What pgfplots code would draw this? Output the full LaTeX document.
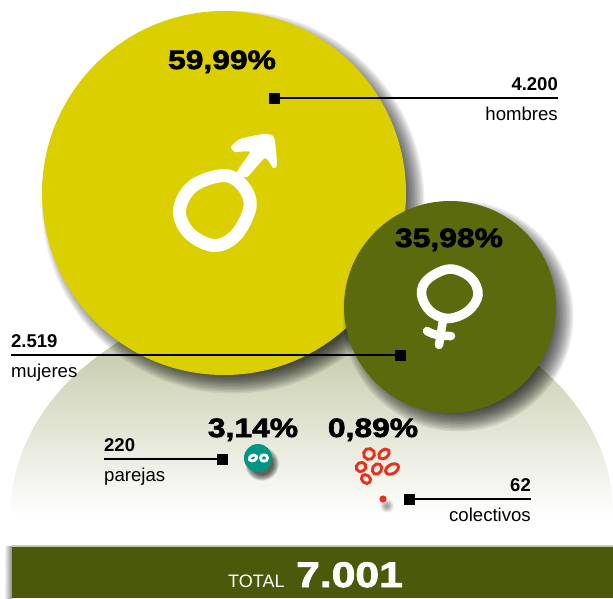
\documentclass[border=0pt]{standalone}
\usepackage{fontspec}
\setmainfont{Liberation Sans}
\newfontfamily\heavy[FakeStretch=1.2,FakeBold=2.4]{Liberation Sans Bold}
\usepackage{pgfplots}
\pgfplotsset{compat=1.18}
\definecolor{maleY}{RGB}{220,207,0}
\definecolor{femaleG}{RGB}{90,106,12}
\definecolor{barG}{RGB}{74,90,10}
\definecolor{domeG}{RGB}{198,204,172}
\definecolor{tealC}{RGB}{0,150,132}
\definecolor{redC}{RGB}{232,48,30}
% one drawing sheet; sheets are stacked so that discs and lines overlap in the right order
\pgfplotsset{sheet/.style={
  scale only axis,width=613pt,height=598pt,
  xmin=0,xmax=613,ymin=0,ymax=598,y dir=reverse,
  hide axis,clip=true}}
% a disc of given radius drawn as a mark
\newcommand\disc[4]{\addplot[only marks,mark=*,mark size=#3,mark options={draw opacity=0,fill=#4}] coordinates {(#1,#2)};}
% a soft drop shadow: stacked translucent discs around radius #3, half-spread #4
\newcommand\softshadow[5]{\pgfplotsinvokeforeach{-1,-0.85,...,1}{%
  \addplot[only marks,mark=*,mark size={#3+##1*#4},mark options={draw opacity=0,fill=black,fill opacity=#5}] coordinates {(#1,#2)};}}
% leader line with a square end
\newcommand\leader[4]{%
  \addplot[black,line width=2.7pt] coordinates {(#1,#3) (#2,#3)};
  \addplot[only marks,mark=square*,mark size=5.5,mark options={draw opacity=0,fill=black}] coordinates {(#4,#3)};}
\newcommand\pct[3]{\node[anchor=base,inner sep=0pt] at (axis cs:#1,#2) {\heavy\fontsize{26.5}{28}\selectfont #3};}
\newcommand\nameline{\fontsize{18.6}{20}\selectfont}
\newcommand\countline{\fontsize{18.5}{20}\selectfont\bfseries}
\begin{document}
\begin{tikzpicture}
% dome and large bubble
\begin{axis}[sheet]
\begin{scope}
  \clip (axis cs:312,512) ellipse [x radius=301pt,y radius=222pt];
  \fill[domeG] (axis cs:0,280) rectangle (axis cs:613,345);
  \shade[top color=domeG,bottom color=white] (axis cs:0,345) rectangle (axis cs:613,516);
\end{scope}
\softshadow{233}{202}{182}{10}{0.07}
\disc{224}{193}{182}{maleY}
\end{axis}
% male symbol and small bubble
\begin{axis}[sheet]
\draw[white,line width=13pt] plot[smooth cycle,tension=0.6] coordinates {(224,175.5) (243,186) (250,207) (236,235) (214,245.5) (189,233) (179.5,210) (193,186)};
\fill[white] plot[smooth cycle,tension=0.35] coordinates {(231,147) (240,139) (263,134) (274,137) (277,165) (273,168) (265,158) (247,177) (237,172) (250,152) (235,152)};
\softshadow{458}{316}{106}{10}{0.07}
\disc{450}{307}{106}{femaleG}
\end{axis}
% female symbol, leaders, small bubbles
\begin{axis}[sheet]
\draw[white,line width=9.5pt] plot[smooth cycle,tension=0.6] coordinates {(450,269) (471,278) (478,295) (468,311) (448,318.5) (430,311) (421.5,294) (428,279)};
\draw[white,line width=8.5pt,line cap=round] (axis cs:443,320) -- (axis cs:439,345);
\draw[white,line width=8.5pt,line cap=round] (axis cs:427,331) .. controls (axis cs:435,336) and (axis cs:445,336) .. (axis cs:451,336);
\leader{274.5}{558}{98}{274.5}
\leader{11}{400}{355}{400}
\leader{104}{222}{459}{222}
\leader{409}{531}{499}{409}
\softshadow{262}{464}{14}{3}{0.06}
\disc{258}{458}{14}{tealC}
\softshadow{387}{506}{4}{3}{0.03}
\disc{383}{499}{3.6}{redC}
\end{axis}
% rings, text and the total band
\begin{axis}[sheet]
\draw[white,line width=2.8pt,rotate around={25:(axis cs:253,458)}] (axis cs:253,458) ellipse [x radius=3.8pt,y radius=2.8pt];
\draw[white,line width=2.8pt] (axis cs:264,458) ellipse [x radius=3.6pt,y radius=3.2pt];
\begin{scope}[redC,line width=2.9pt]
  \draw[rotate around={30:(axis cs:369,454)}] (axis cs:369,454) ellipse [x radius=5.5pt,y radius=5.5pt];
  \draw[rotate around={40:(axis cs:384,454)}] (axis cs:384,454) ellipse [x radius=6pt,y radius=4pt];
  \draw[rotate around={30:(axis cs:361,467)}] (axis cs:361,467) ellipse [x radius=5pt,y radius=4.5pt];
  \draw[rotate around={60:(axis cs:377,469)}] (axis cs:377,469) ellipse [x radius=5.5pt,y radius=4.5pt];
  \draw[rotate around={30:(axis cs:392,469)}] (axis cs:392,469) ellipse [x radius=7pt,y radius=4.5pt];
  \draw[rotate around={-40:(axis cs:366,479)}] (axis cs:366,479) ellipse [x radius=5pt,y radius=4pt];
\end{scope}
\begin{scope}[every node/.style={inner sep=0pt}]
\node[anchor=base east] at (axis cs:558,90) {\countline 4.200};
\node[anchor=base east] at (axis cs:558,120) {\nameline hombres};
\node[anchor=base west] at (axis cs:11,347) {\countline 2.519};
\node[anchor=base west] at (axis cs:11,377) {\nameline mujeres};
\node[anchor=base west] at (axis cs:104,451) {\countline 220};
\node[anchor=base west] at (axis cs:104,481) {\nameline parejas};
\node[anchor=base east] at (axis cs:531,491) {\countline 62};
\node[anchor=base east] at (axis cs:531,521) {\nameline colectivos};
\end{scope}
\pct{222}{69}{59,99\%}
\pct{449}{247}{35,98\%}
\pct{253}{437}{3,14\%}
\pct{373}{437}{0,89\%}
\shade[left color=white,right color=black!45] (axis cs:4,546) rectangle (axis cs:12,598);
\fill[domeG] (axis cs:12,545) rectangle (axis cs:613,548);
\fill[barG] (axis cs:12,547) rectangle (axis cs:613,598);
\node[anchor=base west,inner sep=0pt,text=white] at (axis cs:228,587) {\fontsize{18}{20}\selectfont TOTAL};
\node[anchor=base west,inner sep=0pt,text=white] at (axis cs:296,587) {\heavy\fontsize{35.5}{37}\selectfont 7.001};
\end{axis}
% the page is exactly the drawing sheet
\pgfresetboundingbox
\path[use as bounding box] (current axis.south west) rectangle (current axis.north east);
\end{tikzpicture}
\end{document}
